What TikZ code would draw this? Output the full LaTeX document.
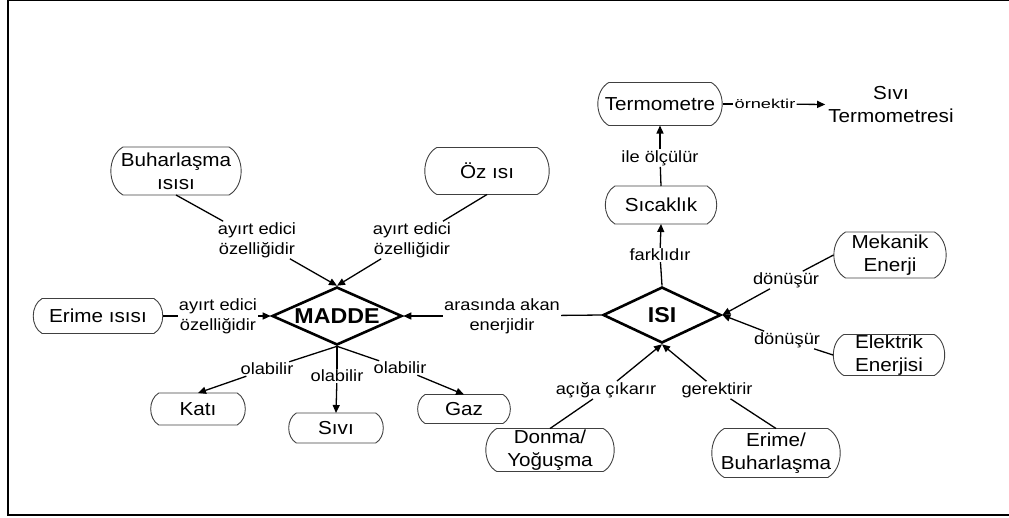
\documentclass[tikz,border=0pt]{standalone}
\usepackage{fontspec}
\setmainfont{Liberation Sans}
\newfontfamily\bxf[FakeStretch=1.1]{Liberation Sans}
\newfontfamily\lbf[FakeStretch=1.12]{Liberation Sans}
\newfontfamily\obf[FakeStretch=1.4]{Liberation Sans}
\newfontfamily\bdf[FakeStretch=1.08]{Liberation Sans}
\usetikzlibrary{shapes.geometric,arrows.meta}
\newcommand\boxoutline[2]{%
  \draw[bline] (#1.north) -- ([xshift=-#2]#1.north east) to[bend left=60] ([xshift=-#2]#1.south east)
    -- ([xshift=#2]#1.south west) to[bend left=60] ([xshift=#2]#1.north west) -- cycle;}
\begin{document}
\begin{tikzpicture}[x=1pt,y=-1pt,
  box/.style n args={3}{rectangle, inner xsep=-5pt, inner ysep=0pt, minimum width=#1, minimum height=#2, outer xsep=#3, outer ysep=0pt, align=center, font=\bxf\fontsize{18.8}{23}\selectfont},
  bline/.style={draw=black!75, line width=0.9pt, line join=round},
  plain/.style={inner sep=3pt, align=center, font=\bxf\fontsize{18.8}{23}\selectfont},
  dia/.style={diamond, draw=black, line width=2.6pt, inner sep=0pt, aspect=2.2, font=\bdf\bfseries\fontsize{21.5}{24}\selectfont},
  lab/.style={inner sep=1pt, align=center, font=\lbf\fontsize{16.3}{20}\selectfont},
  olab/.style={inner sep=1pt, align=center, font=\obf\fontsize{13}{16}\selectfont},
  con/.style={line width=1.3pt, draw=black},
  arr/.style={con, -{Triangle[length=8pt,width=7pt]}},
]
\useasboundingbox (0,0) rectangle (1009,517);
% frame
\draw[line width=1.2pt] (8,0.8) -- (1009,0.8);
\draw[line width=2.6pt] (8,0) -- (8,515) -- (1009,515);

% nodes
\node[box={102.6pt}{43pt}{11.2pt}] (term) at (660,104) {Termometre};
\node[plain] (sivit) at (891,105) {Sıvı\\Termometresi};
\node[box={92.2pt}{38pt}{9.9pt}] (sic) at (661,205) {Sıcaklık};
\node[dia, minimum width=118pt, minimum height=56pt] (isi) at (662,315) {ISI};
\node[dia, minimum width=130pt, minimum height=58pt] (madde) at (337,316) {MADDE};
\node[box={106pt}{48pt}{12.5pt}] (buh) at (176,171) {Buharlaşma\\ısısı};
\node[box={100.6pt}{47pt}{12.2pt}] (oz) at (487,171) {Öz ısı};
\node[box={111.8pt}{35pt}{9.1pt}] (erime) at (98,316) {Erime ısısı};
\node[box={78.4pt}{32pt}{8.3pt}] (kati) at (198,409) {Katı};
\node[box={79.4pt}{30pt}{7.8pt}] (sivi) at (336,428) {Sıvı};
\node[box={78pt}{29pt}{7.5pt}] (gaz) at (464,409) {Gaz};
\node[box={89pt}{46pt}{12pt}] (mek) at (890,255) {Mekanik\\Enerji};
\node[box={90.6pt}{41pt}{10.7pt}] (elek) at (889,355) {Elektrik\\Enerjisi};
\node[box={106.6pt}{43pt}{11.2pt}] (donma) at (550,450) {Donma/\\Yoğuşma};
\node[box={103.6pt}{49pt}{12.7pt}] (erbuh) at (776,453) {Erime/\\Buharlaşma};

\boxoutline{term}{11.2pt}
\boxoutline{sic}{9.9pt}
\boxoutline{buh}{12.5pt}
\boxoutline{oz}{12.2pt}
\boxoutline{erime}{9.1pt}
\boxoutline{kati}{8.3pt}
\boxoutline{sivi}{7.8pt}
\boxoutline{gaz}{7.5pt}
\boxoutline{mek}{12pt}
\boxoutline{elek}{10.7pt}
\boxoutline{donma}{11.2pt}
\boxoutline{erbuh}{12.7pt}

% labels
\node[lab] (ile) at (660,158) {ile ölçülür};
\node[lab] (fark) at (660,255) {farklıdır};
\node[olab] (ornek) at (765,104) {örnektir};
\node[lab] (l1) at (257,240) {ayırt edici\\özelliğidir};
\node[lab] (l2) at (412,240) {ayırt edici\\özelliğidir};
\node[lab] (l3) at (218,316) {ayırt edici\\özelliğidir};
\node[lab] (l4) at (502,316) {arasında akan\\enerjidir};
\node[lab] (ol1) at (267,369) {olabilir};
\node[lab] (ol2) at (337,376) {olabilir};
\node[lab] (ol3) at (400,368) {olabilir};
\node[lab] (d1) at (786,280) {dönüşür};
\node[lab] (d2) at (787,340) {dönüşür};
\node[lab] (acig) at (606,390) {açığa çıkarır};
\node[lab] (gerek) at (717,390) {gerektirir};

% connectors
\draw[con] (sic.north) -- (ile);
\draw[arr] (ile) -- (term.south);
\draw[con] (isi.north) -- (fark);
\draw[arr] (fark) -- (sic.south);
\draw[con] (term.east) -- (ornek);
\draw[arr] (ornek) -- (sivit);
\draw[con] (buh.south) -- (l1);
\draw[arr] (l1) -- (madde.north);
\draw[con] (oz.south) -- (l2);
\draw[arr] (l2) -- (madde.north);
\draw[con] (erime.east) -- (l3);
\draw[arr] (l3) -- (madde.west);
\draw[con] (isi.west) -- (l4);
\draw[arr] (l4) -- (madde.east);
\draw[con] (madde.south) -- (ol1);
\draw[arr] (ol1) -- (kati.north);
\draw[con] (madde.south) -- (ol2);
\draw[arr] (ol2) -- (sivi.north);
\draw[con] (madde.south) -- (ol3);
\draw[arr] (ol3) -- (gaz.north);
\draw[con] (mek.west) -- (d1);
\draw[arr] (d1) -- (isi.east);
\draw[con] (elek.west) -- (d2);
\draw[arr] (d2) -- (isi.east);
\draw[con] (donma.north) -- (acig);
\draw[arr] (acig) -- (isi.south);
\draw[con] (erbuh.north) -- (gerek);
\draw[arr] (gerek) -- (isi.south);
\end{tikzpicture}
\end{document}
